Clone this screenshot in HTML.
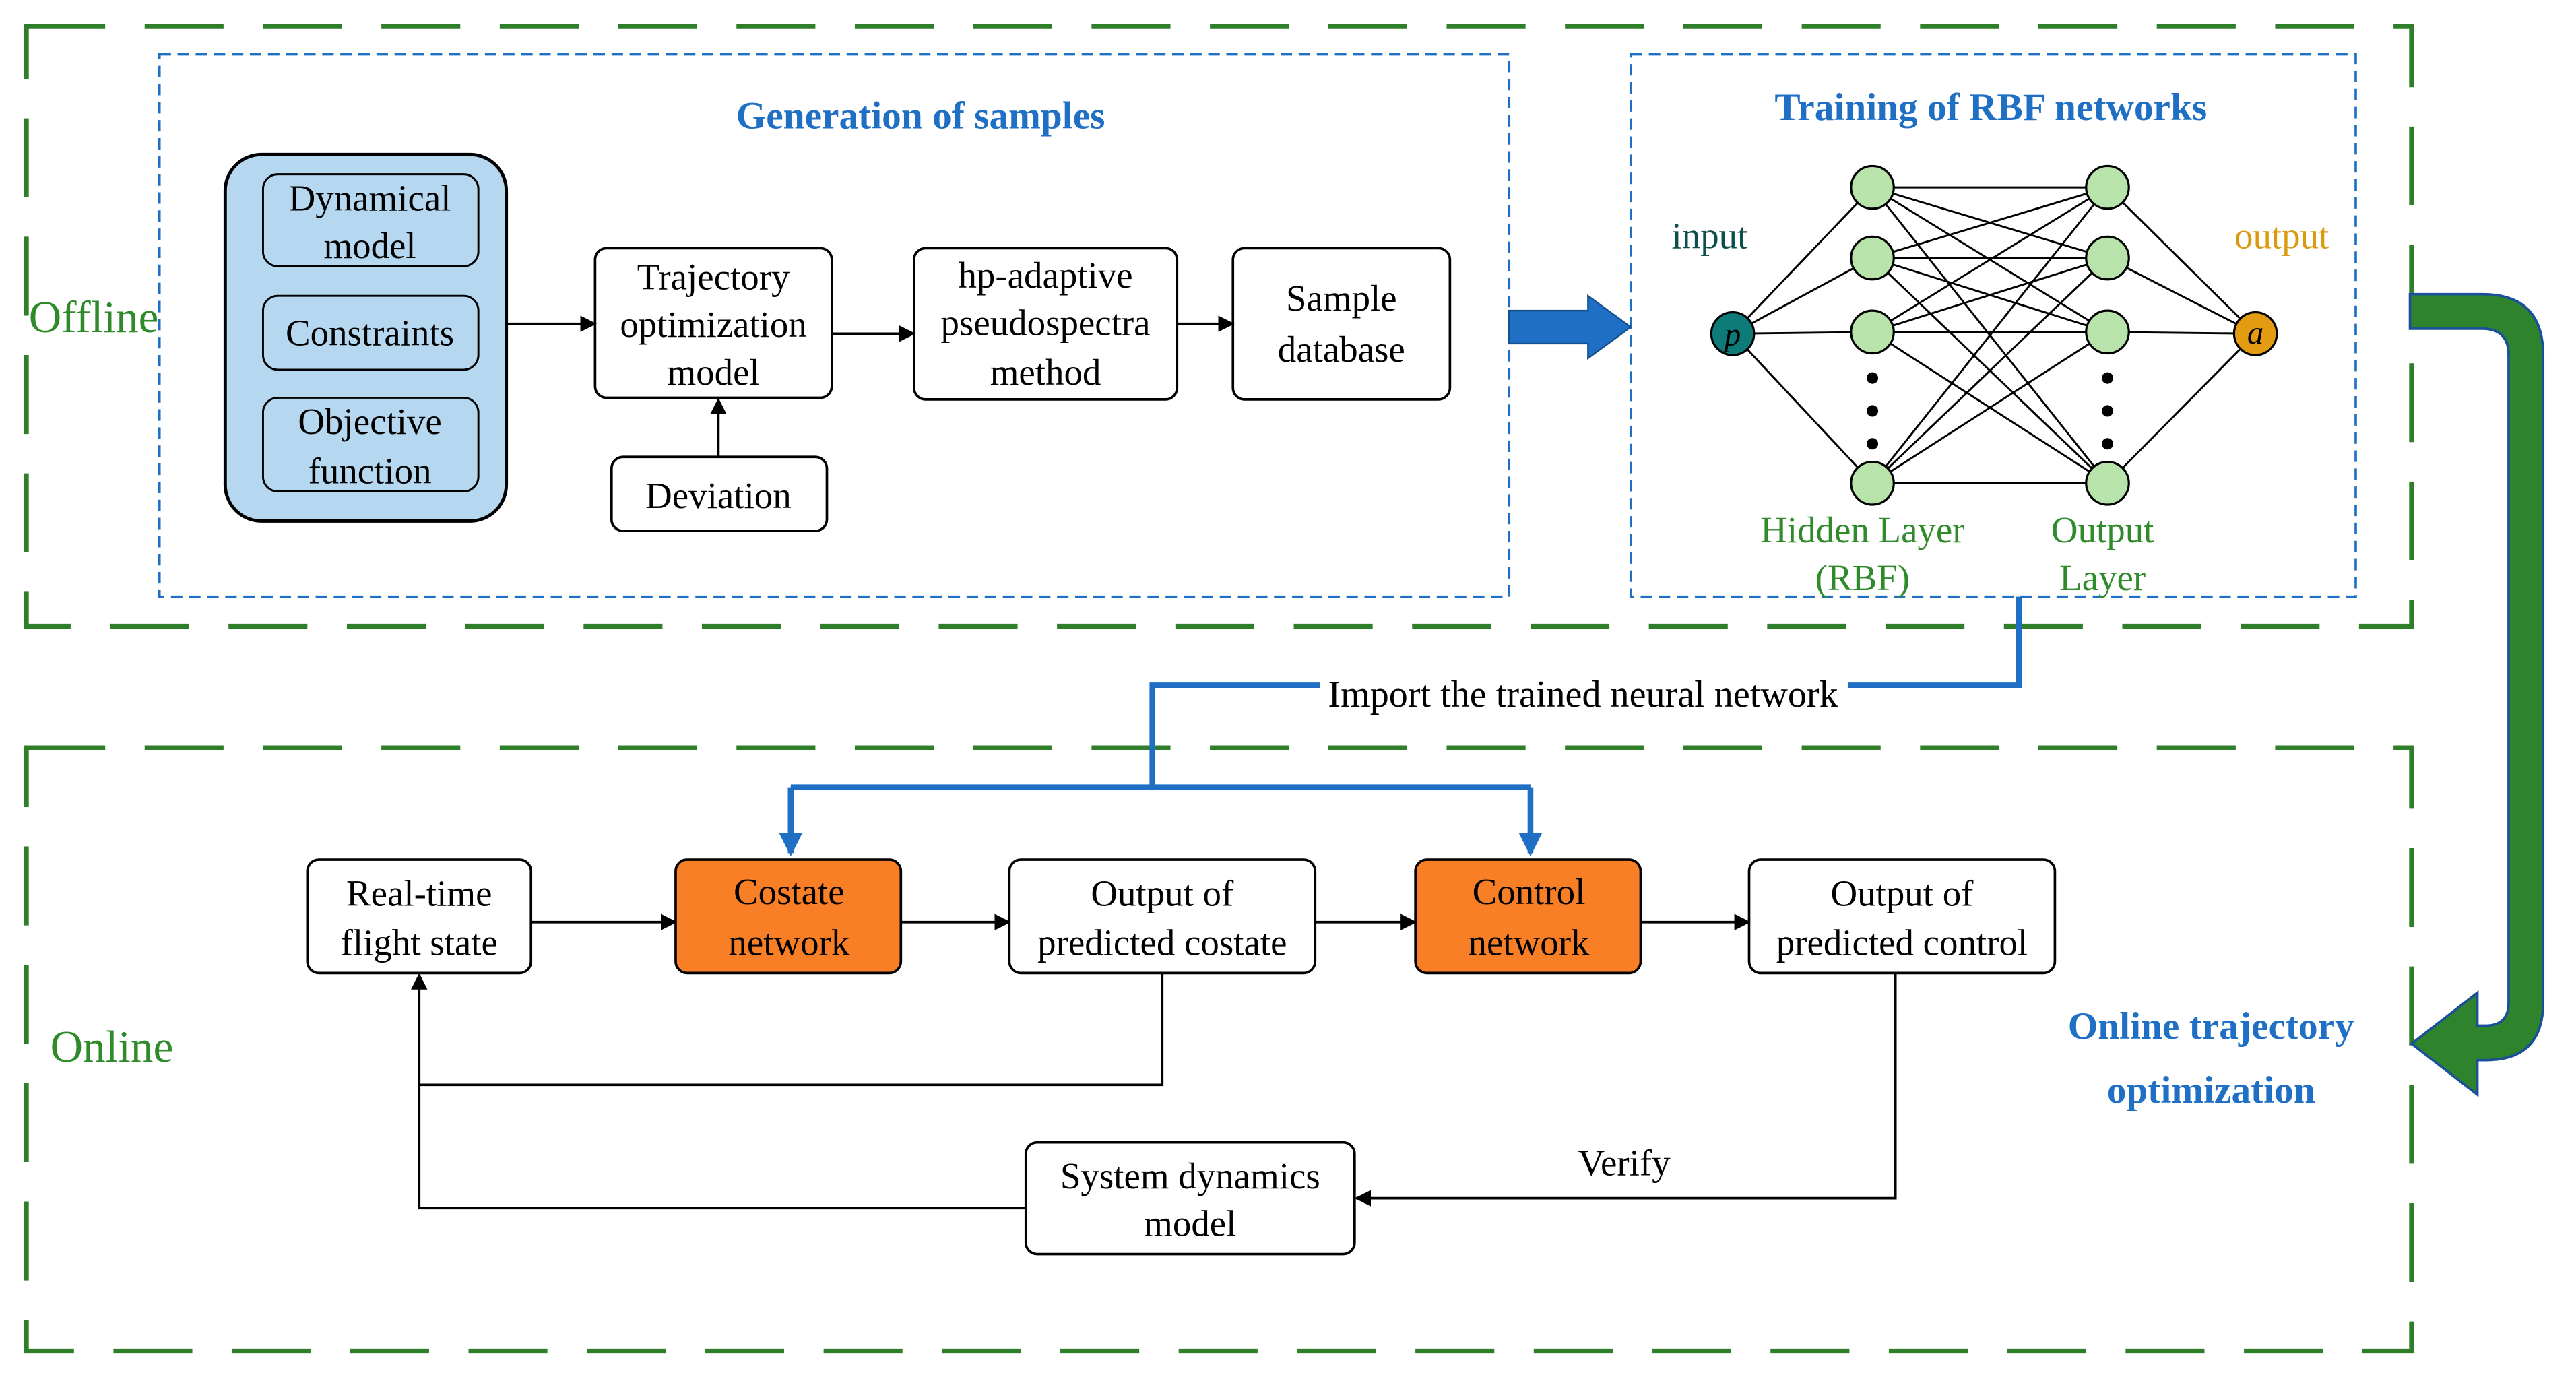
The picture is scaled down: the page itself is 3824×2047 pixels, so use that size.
<!DOCTYPE html>
<html><head><meta charset="utf-8"><style>
html,body{margin:0;padding:0;background:#fff;}
svg{display:block;}
text{font-family:"Liberation Serif",serif;}
</style></head><body>
<svg width="3824" height="2047" viewBox="0 0 1567 839" preserveAspectRatio="none" xmlns="http://www.w3.org/2000/svg">
<defs>
<marker id="ah" markerWidth="10" markerHeight="10" refX="9" refY="5" orient="auto" markerUnits="userSpaceOnUse"><path d="M0,0 L10,5 L0,10 z" fill="#000"/></marker>
<marker id="bh" markerWidth="14" markerHeight="14" refX="12" refY="7" orient="auto" markerUnits="userSpaceOnUse"><path d="M0,0 L14,7 L0,14 z" fill="#1f6fc4"/></marker>
</defs>
<rect width="1567" height="839" fill="#fff"/>
<g fill="none" stroke="#2f7f2a" stroke-width="3" stroke-dasharray="48,24">
<rect x="16" y="16" width="1451" height="365"/>
<rect x="16" y="455" width="1451" height="367"/>
</g>
<g fill="none" stroke="#1f6fc4" stroke-width="1.5" stroke-dasharray="7,4">
<rect x="97" y="33" width="821" height="330"/>
<rect x="992" y="33" width="441" height="330"/>
</g>
<text x="560" y="78" font-size="23.5" font-weight="bold" fill="#1f6fc4" text-anchor="middle">Generation of samples</text>
<text x="1211" y="73" font-size="23.5" font-weight="bold" fill="#1f6fc4" text-anchor="middle">Training of RBF networks</text>
<text x="57" y="202" font-size="27.5" fill="#2f8a2a" text-anchor="middle">Offline</text>
<text x="68" y="646" font-size="27.5" fill="#2f8a2a" text-anchor="middle">Online</text>

<g font-size="22.5" text-anchor="middle" fill="#000">
<rect x="137" y="94" width="171" height="223" rx="22" fill="#b5d7ef" stroke="#000" stroke-width="2"/>
<rect x="160" y="106" width="131" height="56" rx="9" fill="none" stroke="#000" stroke-width="1.2"/>
<text x="225" y="128">Dynamical</text><text x="225" y="157">model</text>
<rect x="160" y="180" width="131" height="45" rx="9" fill="none" stroke="#000" stroke-width="1.2"/>
<text x="225" y="210">Constraints</text>
<rect x="160" y="242" width="131" height="57" rx="9" fill="none" stroke="#000" stroke-width="1.2"/>
<text x="225" y="264">Objective</text><text x="225" y="294">function</text>

<rect x="362" y="151" width="144" height="91" rx="7" fill="#fff" stroke="#000" stroke-width="1.5"/>
<text x="434" y="176">Trajectory</text><text x="434" y="205">optimization</text><text x="434" y="234">model</text>
<rect x="372" y="278" width="131" height="45" rx="7" fill="#fff" stroke="#000" stroke-width="1.5"/>
<text x="437" y="309">Deviation</text>
<rect x="556" y="151" width="160" height="92" rx="7" fill="#fff" stroke="#000" stroke-width="1.5"/>
<text x="636" y="175">hp-adaptive</text><text x="636" y="204">pseudospectra</text><text x="636" y="234">method</text>
<rect x="750" y="151" width="132" height="92" rx="7" fill="#fff" stroke="#000" stroke-width="1.5"/>
<text x="816" y="189">Sample</text><text x="816" y="220">database</text>
</g>
<g stroke="#000" stroke-width="1.5" fill="none" marker-end="url(#ah)">
<line x1="308" y1="197" x2="362" y2="197"/>
<line x1="437" y1="278" x2="437" y2="243"/>
<line x1="506" y1="203" x2="556" y2="203"/>
<line x1="716" y1="197" x2="750" y2="197"/>
</g>
<path d="M918,189 H966 V180 L992,199 L966,218 V209 H918 Z" fill="#1f6fc4" stroke="#15508f" stroke-width="1"/>

<g stroke="#000" stroke-width="1.2">
<line x1="1054" y1="203" x2="1139" y2="114"/><line x1="1054" y1="203" x2="1139" y2="157"/>
<line x1="1054" y1="203" x2="1139" y2="202"/><line x1="1054" y1="203" x2="1139" y2="294"/>
<line x1="1139" y1="114" x2="1282" y2="114"/><line x1="1139" y1="114" x2="1282" y2="157"/><line x1="1139" y1="114" x2="1282" y2="202"/><line x1="1139" y1="114" x2="1282" y2="294"/>
<line x1="1139" y1="157" x2="1282" y2="114"/><line x1="1139" y1="157" x2="1282" y2="157"/><line x1="1139" y1="157" x2="1282" y2="202"/><line x1="1139" y1="157" x2="1282" y2="294"/>
<line x1="1139" y1="202" x2="1282" y2="114"/><line x1="1139" y1="202" x2="1282" y2="157"/><line x1="1139" y1="202" x2="1282" y2="202"/><line x1="1139" y1="202" x2="1282" y2="294"/>
<line x1="1139" y1="294" x2="1282" y2="114"/><line x1="1139" y1="294" x2="1282" y2="157"/><line x1="1139" y1="294" x2="1282" y2="202"/><line x1="1139" y1="294" x2="1282" y2="294"/>
<line x1="1282" y1="114" x2="1372" y2="203"/><line x1="1282" y1="157" x2="1372" y2="203"/>
<line x1="1282" y1="202" x2="1372" y2="203"/><line x1="1282" y1="294" x2="1372" y2="203"/>
</g>
<g fill="#b8e3aa" stroke="#000" stroke-width="1.3">
<circle cx="1139" cy="114" r="13"/><circle cx="1139" cy="157" r="13"/><circle cx="1139" cy="202" r="13"/><circle cx="1139" cy="294" r="13"/>
<circle cx="1282" cy="114" r="13"/><circle cx="1282" cy="157" r="13"/><circle cx="1282" cy="202" r="13"/><circle cx="1282" cy="294" r="13"/>
</g>
<g fill="#000"><circle cx="1139" cy="230" r="3.5"/><circle cx="1139" cy="250" r="3.5"/><circle cx="1139" cy="270" r="3.5"/>
<circle cx="1282" cy="230" r="3.5"/><circle cx="1282" cy="250" r="3.5"/><circle cx="1282" cy="270" r="3.5"/></g>
<circle cx="1054" cy="203" r="13" fill="#0e7b78" stroke="#000" stroke-width="1.3"/>
<circle cx="1372" cy="203" r="13" fill="#e39b12" stroke="#000" stroke-width="1.3"/>
<text x="1054" y="210" font-size="20" font-style="italic" text-anchor="middle">p</text>
<text x="1372" y="209" font-size="20" font-style="italic" text-anchor="middle">a</text>
<text x="1040" y="151" font-size="22.5" fill="#0d4f4c" text-anchor="middle">input</text>
<text x="1388" y="151" font-size="22.5" fill="#d99a10" text-anchor="middle">output</text>
<g font-size="22.5" fill="#2f8a2a" text-anchor="middle">
<text x="1133" y="330">Hidden Layer</text><text x="1133" y="359">(RBF)</text>
<text x="1279" y="330">Output</text><text x="1279" y="359">Layer</text>
</g>

<g fill="none" stroke="#1f6fc4" stroke-width="3.5">
<polyline points="1228,363 1228,417 1124,417"/>
<polyline points="803,417 701,417 701,479"/>
<line x1="481" y1="479" x2="931" y2="479"/>
<line x1="481" y1="479" x2="481" y2="519" marker-end="url(#bh)"/>
<line x1="931" y1="479" x2="931" y2="519" marker-end="url(#bh)"/>
</g>
<text x="963" y="430" font-size="23" text-anchor="middle">Import the trained neural network</text>

<g font-size="22.5" text-anchor="middle">
<rect x="187" y="523" width="136" height="69" rx="7" fill="#fff" stroke="#000" stroke-width="1.5"/>
<text x="255" y="551">Real-time</text><text x="255" y="581">flight state</text>
<rect x="411" y="523" width="137" height="69" rx="7" fill="#f97f26" stroke="#000" stroke-width="1.5"/>
<text x="480" y="550">Costate</text><text x="480" y="581">network</text>
<rect x="614" y="523" width="186" height="69" rx="7" fill="#fff" stroke="#000" stroke-width="1.5"/>
<text x="707" y="551">Output of</text><text x="707" y="581">predicted costate</text>
<rect x="861" y="523" width="137" height="69" rx="7" fill="#f97f26" stroke="#000" stroke-width="1.5"/>
<text x="930" y="550">Control</text><text x="930" y="581">network</text>
<rect x="1064" y="523" width="186" height="69" rx="7" fill="#fff" stroke="#000" stroke-width="1.5"/>
<text x="1157" y="551">Output of</text><text x="1157" y="581">predicted control</text>
<rect x="624" y="695" width="200" height="68" rx="7" fill="#fff" stroke="#000" stroke-width="1.5"/>
<text x="724" y="723">System dynamics</text><text x="724" y="752">model</text>
<text x="988" y="715">Verify</text>
</g>
<g stroke="#000" stroke-width="1.5" fill="none">
<line x1="323" y1="561" x2="411" y2="561" marker-end="url(#ah)"/>
<line x1="548" y1="561" x2="614" y2="561" marker-end="url(#ah)"/>
<line x1="800" y1="561" x2="861" y2="561" marker-end="url(#ah)"/>
<line x1="998" y1="561" x2="1064" y2="561" marker-end="url(#ah)"/>
<polyline points="707,592 707,660 255,660"/>
<polyline points="624,735 255,735 255,593" marker-end="url(#ah)"/>
<polyline points="1153,592 1153,729 825,729" marker-end="url(#ah)"/>
</g>
<text x="1345" y="632" font-size="23.5" font-weight="bold" fill="#1f6fc4" text-anchor="middle">Online trajectory</text>
<text x="1345" y="671" font-size="23.5" font-weight="bold" fill="#1f6fc4" text-anchor="middle">optimization</text>

<path d="M1466,179 H1510 Q1547,179 1547,216 V610 Q1547,645 1512,645 H1507 V666 L1467,635 L1507,604 V624 H1512 Q1526,624 1526,610 V216 Q1526,200 1510,200 H1466 Z" fill="#2e832c" stroke="#1a4f9a" stroke-width="1.5"/>
</svg>
</body></html>
